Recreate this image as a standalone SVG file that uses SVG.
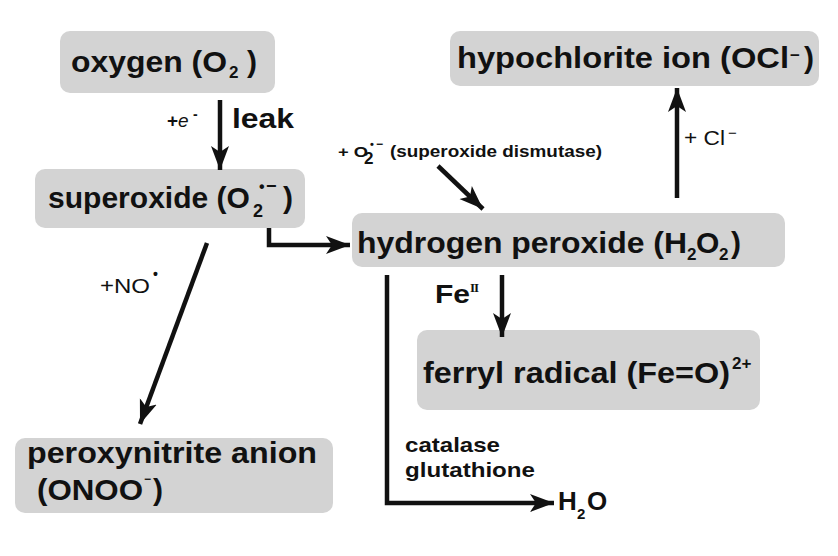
<svg xmlns="http://www.w3.org/2000/svg" width="838" height="556" viewBox="0 0 838 556">
<defs>
<style>
.box{fill:#d3d3d3;stroke:none}
.t{font-family:"Liberation Sans",Arial,sans-serif;font-weight:bold;fill:#111}
.m{font-size:30px}
.s{font-size:17px}
.r{font-family:"Liberation Sans",Arial,sans-serif;font-weight:normal;fill:#111}
.c{fill:none;stroke:#111;stroke-width:4.5;stroke-linejoin:miter}
</style>
<marker id="ah" markerUnits="userSpaceOnUse" viewBox="-24 -10 26 20" refX="0" refY="0" markerWidth="26" markerHeight="20" orient="auto">
<path d="M0,0 L-24,-9 L-18,0 L-24,9 Z" fill="#111"/>
</marker>
</defs>
<rect width="838" height="556" fill="#fff"/>

<g id="oxygen">
<rect class="box" x="60" y="31" width="215" height="62" rx="10"/>
<text class="t m" x="71" y="72" textLength="156" lengthAdjust="spacingAndGlyphs">oxygen (O</text>
<text class="t s" x="229" y="78">2</text>
<text class="t m" x="247" y="72">)</text>
</g>

<g id="superoxide">
<rect class="box" x="35" y="169" width="270" height="59" rx="10"/>
<text class="t m" x="48" y="208" textLength="202" lengthAdjust="spacingAndGlyphs">superoxide (O</text>
<text class="t" x="253" y="217" font-size="18">2</text>
<text class="t" x="259" y="192" font-size="16">•</text>
<text class="t" x="266" y="192" font-size="18">−</text>
<text class="t m" x="283" y="208">)</text>
</g>

<g id="hypochlorite">
<rect class="box" x="450" y="31" width="369" height="55" rx="10"/>
<text class="t m" x="457" y="68" textLength="332" lengthAdjust="spacingAndGlyphs">hypochlorite ion (OCl</text>
<text class="t" x="790" y="61" font-size="17">−</text>
<text class="t m" x="804" y="68">)</text>
</g>

<g id="hydrogen-peroxide">
<rect class="box" x="352" y="213" width="433" height="54" rx="10"/>
<text class="t m" x="357" y="253" textLength="330" lengthAdjust="spacingAndGlyphs">hydrogen peroxide (H</text>
<text class="t s" x="687" y="260">2</text>
<text class="t m" x="696" y="253">O</text>
<text class="t s" x="719" y="260">2</text>
<text class="t m" x="731" y="253">)</text>
</g>

<g id="ferryl">
<rect class="box" x="417" y="330" width="343" height="80" rx="10"/>
<text class="t m" x="423" y="383" textLength="307" lengthAdjust="spacingAndGlyphs">ferryl radical (Fe=O)</text>
<text class="t s" x="732" y="369">2+</text>
</g>

<g id="peroxynitrite">
<rect class="box" x="15" y="438" width="318" height="75" rx="10"/>
<text class="t m" x="27" y="463" textLength="290" lengthAdjust="spacingAndGlyphs">peroxynitrite anion</text>
<text class="t m" x="37" y="500" textLength="106" lengthAdjust="spacingAndGlyphs">(ONOO</text>
<text class="t" x="144" y="483" font-size="12">−</text>
<text class="t m" x="153" y="500">)</text>
</g>

<g id="water">
<text class="t" x="558" y="510" font-size="26">H</text>
<text class="t" x="577" y="519" font-size="15">2</text>
<text class="t" x="587" y="510" font-size="26">O</text>
</g>

<g id="connectors">
<line class="c" x1="220" y1="100" x2="220" y2="170" marker-end="url(#ah)"/>
<path class="c" d="M269,228 V245 H350" marker-end="url(#ah)"/>
<line class="c" x1="207" y1="243" x2="140" y2="424" marker-end="url(#ah)"/>
<line class="c" x1="438" y1="166" x2="483" y2="209" marker-end="url(#ah)"/>
<line class="c" x1="677" y1="198" x2="677" y2="88" marker-end="url(#ah)"/>
<line class="c" x1="502" y1="275" x2="502" y2="337" marker-end="url(#ah)"/>
<path class="c" d="M387,275 V503 H554" marker-end="url(#ah)"/>
</g>

<g id="labels">
<text class="t" x="167" y="127" font-size="19">+<tspan font-style="italic" font-weight="normal">e</tspan></text>
<text class="t" x="193" y="119" font-size="14">-</text>
<text class="t" x="232" y="128" font-size="27" textLength="62" lengthAdjust="spacingAndGlyphs">leak</text>

<text class="t" x="338" y="157" font-size="15" textLength="30" lengthAdjust="spacingAndGlyphs">+ O</text>
<text class="t" x="364" y="164" font-size="17">2</text>
<text class="t" x="370" y="148" font-size="11">•</text>
<text class="t" x="376" y="148" font-size="12">−</text>
<text class="t" x="390" y="157" font-size="16" textLength="212" lengthAdjust="spacingAndGlyphs">(superoxide dismutase)</text>

<text class="r" x="684" y="145" font-size="20" textLength="41" lengthAdjust="spacingAndGlyphs">+ Cl</text>
<text class="r" x="728" y="138" font-size="15">−</text>

<text class="r" x="100" y="293" font-size="20" textLength="50" lengthAdjust="spacingAndGlyphs">+NO</text>
<text class="t" x="153" y="279" font-size="14">•</text>

<text class="t" x="435" y="303" font-size="26" textLength="35" lengthAdjust="spacingAndGlyphs">Fe</text>
<text x="470" y="292" font-family="'Liberation Serif','Times New Roman',serif" font-weight="bold" font-size="13" letter-spacing="-1" fill="#111">II</text>

<text class="t" x="405" y="452" font-size="21" textLength="95" lengthAdjust="spacingAndGlyphs">catalase</text>
<text class="t" x="405" y="477" font-size="21" textLength="130" lengthAdjust="spacingAndGlyphs">glutathione</text>
</g>
</svg>
